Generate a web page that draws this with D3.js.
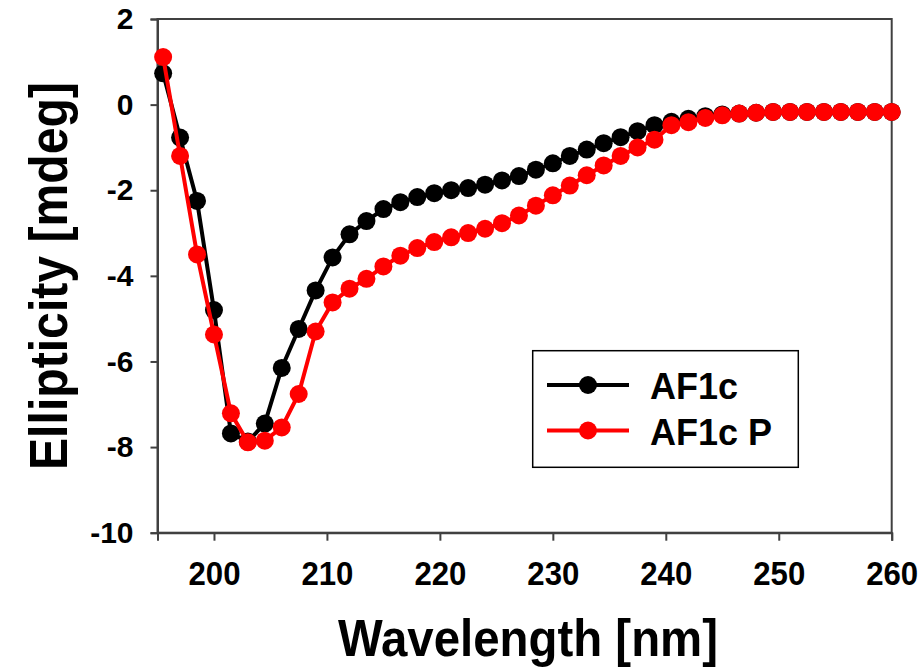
<!DOCTYPE html>
<html>
<head>
<meta charset="utf-8">
<script src="https://cdn.jsdelivr.net/npm/d3@7"></script>
<style>
  body { margin: 0; background: #fff; }
  text { font-family: "Liberation Sans", Arial, sans-serif; font-weight: bold; }
</style>
</head>
<body>
<script>
// wavelength [nm]
var wavelengths = [195.5, 197, 198.5, 200, 201.5, 203, 204.5, 206, 207.5, 209,
  210.5, 212, 213.5, 215, 216.5, 218, 219.5, 221, 222.5, 224,
  225.5, 227, 228.5, 230, 231.5, 233, 234.5, 236, 237.5, 239,
  240.5, 242, 243.5, 245, 246.5, 248, 249.5, 251, 252.5, 254,
  255.5, 257, 258.5, 260]

var af1c = [0.73, -0.77, -2.25, -4.80, -7.68, -7.87, -7.45, -6.15, -5.24, -4.34,
  -3.57, -3.03, -2.72, -2.44, -2.28, -2.16, -2.07, -2.00, -1.95, -1.87,
  -1.77, -1.67, -1.52, -1.37, -1.20, -1.05, -0.90, -0.76, -0.62, -0.48,
  -0.40, -0.33, -0.27, -0.23, -0.21, -0.19, -0.17, -0.17, -0.17, -0.17,
  -0.17, -0.17, -0.17, -0.17]

var af1cP = [1.11, -1.20, -3.50, -5.37, -7.21, -7.89, -7.85, -7.54, -6.76, -5.30,
  -4.62, -4.30, -4.07, -3.78, -3.53, -3.35, -3.21, -3.10, -3.00, -2.90,
  -2.77, -2.59, -2.36, -2.12, -1.89, -1.65, -1.42, -1.20, -1.00, -0.82,
  -0.48, -0.41, -0.31, -0.25, -0.21, -0.19, -0.17, -0.17, -0.17, -0.17,
  -0.17, -0.17, -0.17, -0.17]

var seriesNames = ["AF1c", "AF1c P"]
var seriesColors = ["#000000", "#ff0000"]
var xTicks = [200, 210, 220, 230, 240, 250, 260]
var yTicks = [2, 0, -2, -4, -6, -8, -10]

function main() {
  width = 924
  height = 668

  left = 157.5
  right = 891.7
  top_ = 19
  bottom = 532.7

  canvas = d3.select("body")
  .append("svg")
  .attr("width", width)
  .attr("height", height)

  var x = d3.scaleLinear().domain([195, 260]).range([left, right])
  var y = d3.scaleLinear().domain([-10, 2]).range([bottom, top_])
  var axisColor = "#404040"

  // frame (top & right, no ticks)
  canvas.append("rect")
  .attr("x", left).attr("y", top_)
  .attr("width", right - left).attr("height", bottom - top_)
  .attr("fill", "none").attr("stroke", axisColor).attr("stroke-width", 2)

  var xAxis = canvas.append("g")
  .attr("transform", "translate(0," + bottom + ")")
  .call(d3.axisBottom(x).tickValues(xTicks).tickSize(8).tickPadding(21).tickFormat(function(d) { return String(d) }))
  xAxis.select(".domain").attr("stroke", axisColor).attr("stroke-width", 2)
  xAxis.selectAll(".tick line").attr("stroke", axisColor).attr("stroke-width", 2)
  xAxis.selectAll("text").attr("font-size", 33).attr("fill", "#000")
  .attr("textLength", 52).attr("lengthAdjust", "spacingAndGlyphs")
  .attr("font-family", "Liberation Sans, Arial, sans-serif").attr("font-weight", "bold")

  var yAxis = canvas.append("g")
  .attr("transform", "translate(" + left + ",0)")
  .call(d3.axisLeft(y).tickValues(yTicks).tickSize(7).tickPadding(17).tickFormat(function(d) { return String(d) }))
  yAxis.select(".domain").attr("stroke", axisColor).attr("stroke-width", 2)
  yAxis.selectAll(".tick line").attr("stroke", axisColor).attr("stroke-width", 2)
  yAxis.selectAll("text").attr("font-size", 30).attr("fill", "#000")
  .attr("font-family", "Liberation Sans, Arial, sans-serif").attr("font-weight", "bold")

  // axis titles
  canvas.append("text")
  .attr("x", 528).attr("y", 656)
  .attr("text-anchor", "middle")
  .attr("font-size", 52)
  .attr("textLength", 380).attr("lengthAdjust", "spacingAndGlyphs")
  .text("Wavelength [nm]")

  canvas.append("text")
  .attr("transform", "translate(67,276) rotate(-90)")
  .attr("text-anchor", "middle")
  .attr("font-size", 54)
  .attr("textLength", 388).attr("lengthAdjust", "spacingAndGlyphs")
  .text("Ellipticity [mdeg]")

  var series = [af1c, af1cP]
  var line = d3.line()
  .x(function(d) { return x(d.w) })
  .y(function(d) { return y(d.v) })

  series.forEach(function(vals, s) {
    var pts = wavelengths.map(function(w, i) { return {w: w, v: vals[i]} })
    var g = canvas.append("g").attr("class", "series")
    g.append("path")
    .datum(pts)
    .attr("d", line)
    .attr("fill", "none")
    .attr("stroke", seriesColors[s])
    .attr("stroke-width", 4)
    g.selectAll("circle")
    .data(pts)
    .enter()
    .append("circle")
    .attr("cx", function(d) { return x(d.w) })
    .attr("cy", function(d) { return y(d.v) })
    .attr("r", 9)
    .attr("fill", seriesColors[s])
  })

  // legend
  var legend = canvas.append("g").attr("class", "legend")
  legend.append("rect")
  .attr("x", 532.7).attr("y", 350.7)
  .attr("width", 265.6).attr("height", 116.6)
  .attr("fill", "#fff").attr("stroke", "#000").attr("stroke-width", 1.5)

  var rowY = [385, 430.5]
  seriesNames.forEach(function(name, s) {
    legend.append("line")
    .attr("x1", 547).attr("x2", 629)
    .attr("y1", rowY[s]).attr("y2", rowY[s])
    .attr("stroke", seriesColors[s]).attr("stroke-width", 4)
    legend.append("circle")
    .attr("cx", 588).attr("cy", rowY[s]).attr("r", 9)
    .attr("fill", seriesColors[s])
    legend.append("text")
    .attr("x", 650).attr("y", rowY[s] + 14)
    .attr("font-size", 36)
    .text(name)
  })
}

main()
</script>
</body>
</html>
